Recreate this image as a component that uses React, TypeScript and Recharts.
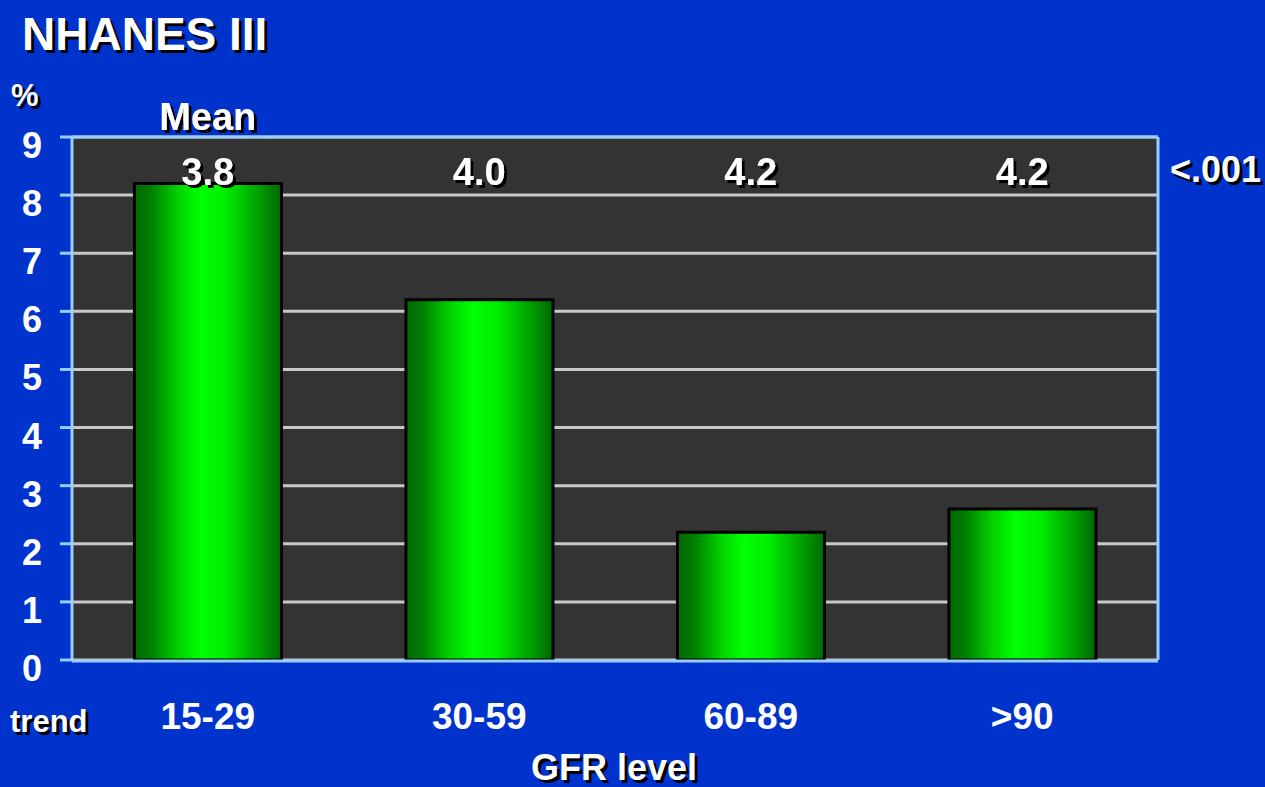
import { Bar, BarChart, CartesianGrid, ReferenceDot, XAxis, YAxis } from "recharts";

const categories = ["15-29", "30-59", "60-89", ">90"];
const prevalence = [8.2, 6.2, 2.2, 2.6];
const meanValues = ["3.8", "4.0", "4.2", "4.2"];
const meanRowLevel = 8.4;
const yTicks = [0, 1, 2, 3, 4, 5, 6, 7, 8, 9];
const groupEdges = [0, 1, 2, 3, 4];

const data = categories.map((category, i) => ({ category, value: prevalence[i] }));

const FONT = '"Liberation Sans", Arial, sans-serif';
const AXIS_BLUE = "#99CCFF";

function ShadowText({ x, y, size, children }: any) {
  return (
    <text
      x={x}
      y={y}
      fill="#fff"
      fontFamily={FONT}
      fontWeight="bold"
      fontSize={size}
      textAnchor="middle"
      filter="url(#hardShadow)"
    >
      {children}
    </text>
  );
}

const YTick = (props: any) => {
  const { x, y, payload } = props;
  return (
    <text x={x - 26} y={y + 21} textAnchor="middle" fill="#fff" fontFamily={FONT} fontWeight="bold" fontSize={36}>
      {payload.value}
    </text>
  );
};

const XTick = (props: any) => {
  const { x, y, payload } = props;
  return (
    <text x={x} y={y + 69} textAnchor="middle" fill="#fff" fontFamily={FONT} fontWeight="bold" fontSize={37}>
      {payload.value}
    </text>
  );
};

// label sitting on an invisible reference dot, one per group
const MeanLabel = (props: any) => {
  const { viewBox, text, header } = props;
  if (!viewBox) return null;
  const cx = viewBox.x + (viewBox.width || 0) / 2;
  const cy = viewBox.y + (viewBox.height || 0) / 2;
  return (
    <g>
      {header && <ShadowText x={cx} y={cy - 42} size={38}>{header}</ShadowText>}
      <ShadowText x={cx} y={cy + 13} size={38}>{text}</ShadowText>
    </g>
  );
};

const overlay = (size: number): React.CSSProperties => ({
  position: "absolute",
  fontFamily: FONT,
  fontWeight: "bold",
  fontSize: size,
  lineHeight: 1,
  color: "#fff",
  whiteSpace: "nowrap",
  textShadow: "3px 3px 0 #000",
});

export default function App() {
  return (
    <div style={{ position: "fixed", left: 0, top: 0, width: 1265, height: 787, background: "#0033CC", overflow: "hidden" }}>
      <BarChart
        width={1265}
        height={787}
        data={data}
        margin={{ top: 136, right: 106, bottom: 0, left: 71 }}
        barCategoryGap="23%"
      >
        <defs>
          <linearGradient id="barGreen" x1="0" y1="0" x2="1" y2="0">
            <stop offset="0%" stopColor="#006600" />
            <stop offset="12%" stopColor="#008200" />
            <stop offset="30%" stopColor="#00D400" />
            <stop offset="45%" stopColor="#00FF00" />
            <stop offset="62%" stopColor="#00EE00" />
            <stop offset="82%" stopColor="#00A800" />
            <stop offset="100%" stopColor="#006800" />
          </linearGradient>
          <filter id="hardShadow" x="-20%" y="-20%" width="140%" height="140%">
            <feDropShadow dx={3} dy={3} stdDeviation={0} floodColor="#000" floodOpacity={1} />
          </filter>
        </defs>
        <CartesianGrid vertical={false} stroke="#C8C8C8" strokeWidth={3} fill="#333333" fillOpacity={1} />
        {/* category labels: thin axis nearest the plot, labels drawn below it */}
        <XAxis
          dataKey="category"
          height={1}
          interval={0}
          tickSize={0}
          tickMargin={0}
          tickLine={false}
          axisLine={false}
          tick={<XTick />}
        />
        {/* group boundary ticks + bottom axis line */}
        <XAxis
          xAxisId="edge"
          type="number"
          domain={[0, 4]}
          ticks={groupEdges}
          height={126}
          tick={false}
          tickSize={10}
          tickLine={{ stroke: AXIS_BLUE, strokeWidth: 3 }}
          axisLine={{ stroke: AXIS_BLUE, strokeWidth: 3 }}
          allowDataOverflow
        />
        <XAxis
          xAxisId="top"
          orientation="top"
          type="number"
          domain={[0, 4]}
          height={1}
          tick={false}
          tickLine={false}
          axisLine={{ stroke: AXIS_BLUE, strokeWidth: 3 }}
          allowDataOverflow
        />
        <YAxis
          domain={[0, 9]}
          ticks={yTicks}
          width={1}
          interval={0}
          tickSize={12}
          tickLine={{ stroke: AXIS_BLUE, strokeWidth: 3 }}
          axisLine={{ stroke: AXIS_BLUE, strokeWidth: 3 }}
          tick={<YTick />}
        />
        <YAxis
          yAxisId="right"
          orientation="right"
          domain={[0, 9]}
          width={1}
          tick={false}
          tickLine={false}
          axisLine={{ stroke: AXIS_BLUE, strokeWidth: 3 }}
        />
        <Bar dataKey="value" fill="url(#barGreen)" stroke="#000" strokeWidth={3} isAnimationActive={false} />
        {categories.map((c, i) => (
          <ReferenceDot
            key={c}
            x={c}
            y={meanRowLevel}
            r={0}
            fill="none"
            stroke="none"
            ifOverflow="visible"
            label={<MeanLabel text={meanValues[i]} header={i === 0 ? "Mean" : undefined} />}
          />
        ))}
      </BarChart>
      <div style={{ ...overlay(46), left: 22, top: 11 }}>NHANES III</div>
      <div style={{ ...overlay(31), left: 11, top: 80 }}>%</div>
      <div style={{ ...overlay(36), left: 1170, top: 152 }}>&lt;.001</div>
      <div style={{ ...overlay(31), left: 10, top: 706 }}>trend</div>
      <div style={{ ...overlay(36), left: 531, top: 750 }}>GFR level</div>
    </div>
  );
}
